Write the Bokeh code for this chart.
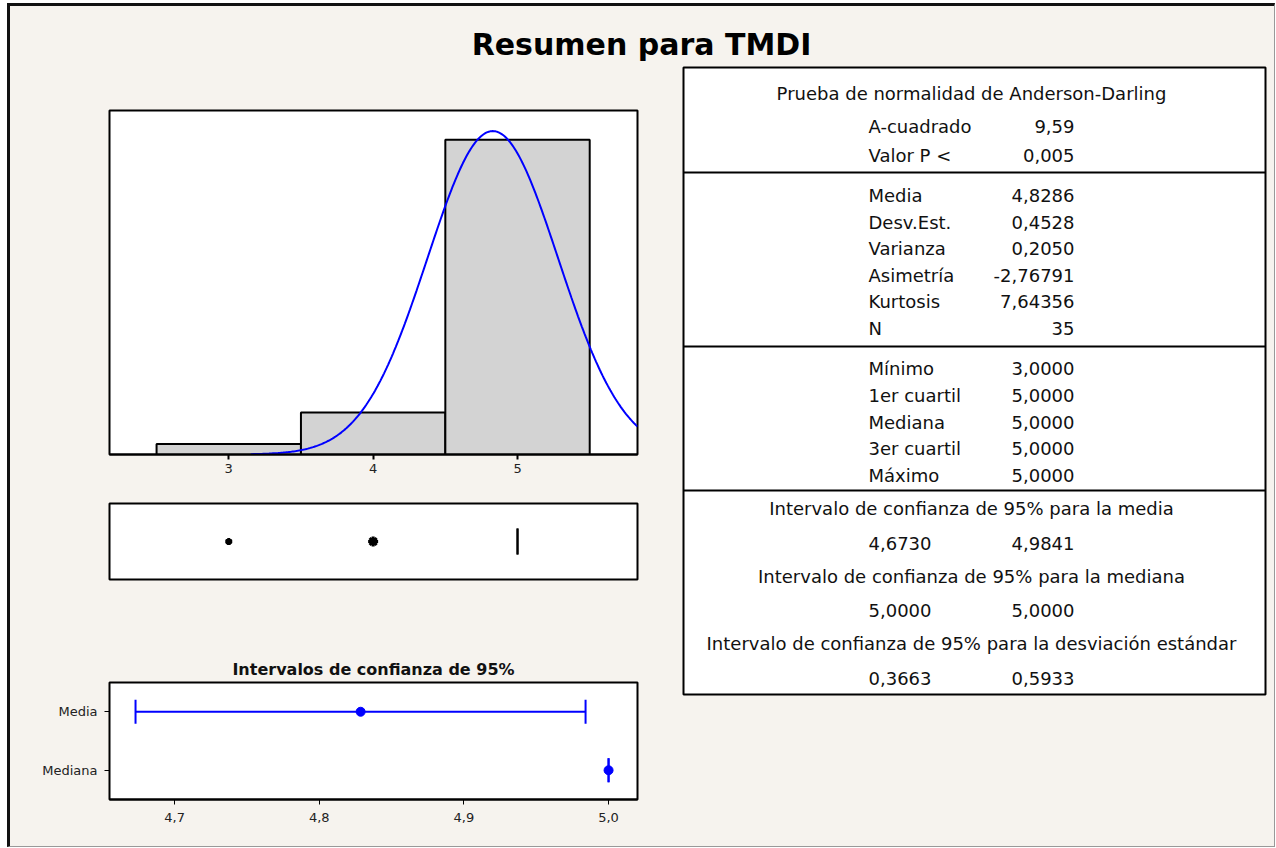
import numpy as np
from bokeh.plotting import figure
from bokeh.layouts import column, row
from bokeh.models import Range1d, FactorRange, Span, ColumnDataSource, FixedTicker, CustomJSTickFormatter
from bokeh.core.properties import value
from bokeh.embed import file_html
from bokeh.resources import INLINE

# ---------------- data ----------------
bin_centers = [3, 4, 5]
bin_counts = [1, 4, 30]
bin_width = 1.0

n_obs = 35
mean_val = 4.8286
sd_val = 0.4528
median_val = 5.0
q1_val = 5.0
q3_val = 5.0
whisker_lo = 5.0
whisker_hi = 5.0
outlier_vals = [3, 4]
outlier_counts = [1, 4]

ci_rows = ["Media", "Mediana"]
ci_center = [4.8286, 5.0]
ci_low = [4.6730, 5.0000]
ci_high = [4.9841, 5.0000]
ci_ticks = [4.7, 4.8, 4.9, 5.0]
hist_ticks = [3, 4, 5]

title_text = "Resumen para TMDI"
ad_header = "Prueba de normalidad de Anderson-Darling"
ad_labels = ["A-cuadrado", "Valor P <"]
ad_values = ["9,59", "0,005"]
desc_labels = ["Media", "Desv.Est.", "Varianza", "Asimetría", "Kurtosis", "N"]
desc_values = ["4,8286", "0,4528", "0,2050", "-2,76791", "7,64356", "35"]
quart_labels = ["Mínimo", "1er cuartil", "Mediana", "3er cuartil", "Máximo"]
quart_values = ["3,0000", "5,0000", "5,0000", "5,0000", "5,0000"]
ci_headers = ["Intervalo de confianza de 95% para la media",
              "Intervalo de confianza de 95% para la mediana",
              "Intervalo de confianza de 95% para la desviación estándar"]
ci_lo_text = ["4,6730", "5,0000", "0,3663"]
ci_hi_text = ["4,9841", "5,0000", "0,5933"]

# ---------------- styles ----------------
BG = "#F6F3EE"
FONT = "DejaVu Sans"
BLUE = "#0000FF"


def base_fig(**kw):
    p = figure(output_backend="svg", toolbar_location=None, **kw)
    p.border_fill_color = BG
    p.background_fill_color = "white"
    p.outline_line_color = "black"
    p.outline_line_width = 2
    p.xgrid.visible = False
    p.ygrid.visible = False
    return p


TOTAL_W = 1264
LEFT_W = 666
ML, MR = 99, 39

# ---------------- title ----------------
pt = figure(output_backend="svg", toolbar_location=None, width=TOTAL_W, height=60,
            x_range=Range1d(0, 1), y_range=Range1d(0, 1),
            x_axis_location=None, y_axis_location=None,
            min_border=0)
pt.border_fill_color = BG
pt.background_fill_color = BG
pt.outline_line_color = None
pt.xgrid.visible = False
pt.ygrid.visible = False
pt.text(x=[0.4992], y=[0.36], text=[title_text], text_align="center", text_baseline="middle",
        text_font=value(FONT), text_font_style="bold", text_font_size="30px", text_color="black")

# ---------------- histogram ----------------
xr = Range1d(2.174, 5.831)
ph = base_fig(width=LEFT_W, height=424, x_range=xr, y_range=Range1d(0, 32.8),
              y_axis_location=None, min_border_left=ML, min_border_right=MR,
              min_border_top=44, min_border_bottom=36)
ph.quad(left=[c - bin_width / 2 for c in bin_centers], right=[c + bin_width / 2 for c in bin_centers],
        bottom=0, top=bin_counts, fill_color="#D3D3D3", line_color="black", line_width=2)
cx = np.linspace(mean_val - 3.7 * sd_val, xr.end, 300)
cy = n_obs * bin_width * np.exp(-0.5 * ((cx - mean_val) / sd_val) ** 2) / (sd_val * np.sqrt(2 * np.pi))
ph.line(cx, cy, line_color=BLUE, line_width=2)
ph.xaxis.ticker = FixedTicker(ticks=hist_ticks)
ph.xaxis.minor_tick_line_color = None
ph.xaxis.major_tick_out = 5
ph.xaxis.major_tick_in = 0
ph.xaxis.major_tick_line_width = 2
ph.xaxis.axis_line_width = 2
ph.xaxis.major_label_standoff = 4
ph.xaxis.major_label_text_font = FONT
ph.xaxis.major_label_text_font_size = "13px"
ph.xaxis.major_label_text_color = "#222222"

# ---------------- boxplot ----------------
pb = base_fig(width=LEFT_W, height=150, x_range=xr, y_range=Range1d(0, 1),
              x_axis_location=None, y_axis_location=None,
              min_border_left=ML, min_border_right=MR, min_border_top=13, min_border_bottom=61)
pb.quad(left=[q1_val], right=[q3_val], bottom=[0.33], top=[0.67],
        fill_color="white", line_color="black", line_width=2)
pb.segment(x0=[whisker_lo, q3_val], x1=[q1_val, whisker_hi], y0=[0.5, 0.5], y1=[0.5, 0.5],
           line_color="black", line_width=2)
pb.segment(x0=[median_val], x1=[median_val], y0=[0.33], y1=[0.67], line_color="black", line_width=2)
pb.scatter(x=outlier_vals, y=[0.5] * len(outlier_vals), marker="asterisk",
           size=[6 + c for c in outlier_counts], line_color="black", line_width=3)

# ---------------- confidence intervals ----------------
pc = base_fig(width=LEFT_W, height=206, x_range=Range1d(4.655, 5.02),
              y_range=FactorRange(factors=ci_rows[::-1]),
              min_border_left=ML, min_border_right=MR, min_border_top=42, min_border_bottom=47,
              title="Intervalos de confianza de 95%")
pc.title.align = "center"
pc.title.text_font = FONT
pc.title.text_font_size = "16px"
pc.title.text_font_style = "bold"
pc.title.text_color = "#111111"
pc.title.standoff = 8
src = ColumnDataSource(dict(row=ci_rows, c=ci_center, lo=ci_low, hi=ci_high))
pc.segment(x0="lo", x1="hi", y0="row", y1="row", source=src, line_color=BLUE, line_width=2)
pc.scatter(x="lo", y="row", source=src, marker="dash", angle=np.pi / 2, size=24,
           line_color=BLUE, line_width=2)
pc.scatter(x="hi", y="row", source=src, marker="dash", angle=np.pi / 2, size=24,
           line_color=BLUE, line_width=2)
pc.scatter(x="c", y="row", source=src, marker="circle", size=9, fill_color=BLUE, line_color=BLUE)
pc.xaxis.ticker = FixedTicker(ticks=ci_ticks)
pc.xaxis.formatter = CustomJSTickFormatter(code="return tick.toFixed(1).replace('.', ',');")
for ax in (pc.xaxis, pc.yaxis):
    ax.minor_tick_line_color = None
    ax.major_tick_out = 5
    ax.major_tick_in = 0
    ax.major_tick_line_width = 1
    ax.axis_line_width = 2
    ax.major_label_text_font = FONT
    ax.major_label_text_font_size = "13px"
    ax.major_label_text_color = "#222222"
pc.xaxis.major_label_standoff = 8
pc.yaxis.major_label_standoff = 7
pc.yaxis.axis_line_color = None

# ---------------- statistics table ----------------
TW, TH = 582, 627
ptab = figure(output_backend="svg", toolbar_location=None, width=TOTAL_W - LEFT_W, height=780,
              x_range=Range1d(0, TW), y_range=Range1d(TH, 0),
              x_axis_location=None, y_axis_location=None,
              min_border_left=7, min_border_right=TOTAL_W - LEFT_W - 7 - TW,
              min_border_top=1, min_border_bottom=780 - 1 - TH)
ptab.border_fill_color = BG
ptab.background_fill_color = "white"
ptab.outline_line_color = "black"
ptab.outline_line_width = 2
ptab.xgrid.visible = False
ptab.ygrid.visible = False
for loc in (105, 279, 423):
    ptab.add_layout(Span(location=loc, dimension="width", line_color="black", line_width=2))

LX, VX, CX = 185, 391, 288
tstyle = dict(text_font=value(FONT), text_font_size="18px", text_color="#111111", text_baseline="middle")

ptab.text(x=[CX], y=[26], text=[ad_header], text_align="center", **tstyle)


def rows(labels, values, y0, step):
    ys = [y0 + i * step for i in range(len(labels))]
    ptab.text(x=[LX] * len(labels), y=ys, text=labels, text_align="left", **tstyle)
    ptab.text(x=[VX] * len(values), y=ys, text=values, text_align="right", **tstyle)


rows(ad_labels, ad_values, 59, 29)
rows(desc_labels, desc_values, 128, 26.6)
rows(quart_labels, quart_values, 301, 26.8)

ci_hdr_y = [441 + i * 67.5 for i in range(3)]
ci_val_y = [y + 34.5 for y in ci_hdr_y]
ptab.text(x=[CX] * 3, y=ci_hdr_y, text=ci_headers, text_align="center", **tstyle)
ptab.text(x=[LX] * 3, y=ci_val_y, text=ci_lo_text, text_align="left", **tstyle)
ptab.text(x=[VX] * 3, y=ci_val_y, text=ci_hi_text, text_align="right", **tstyle)

# ---------------- layout ----------------
left = column(ph, pb, pc, spacing=0)
body = row(left, ptab, spacing=0)
root = column(pt, body, spacing=0,
              styles={"margin-left": "7px", "margin-top": "3px",
                      "border-left": "3px solid #111111", "border-top": "3px solid #111111",
                      "border-right": "1px solid #999999", "border-bottom": "1px solid #999999",
                      "background-color": BG})

open("out.html", "w").write(file_html(root, INLINE, title="Resumen para TMDI"))
